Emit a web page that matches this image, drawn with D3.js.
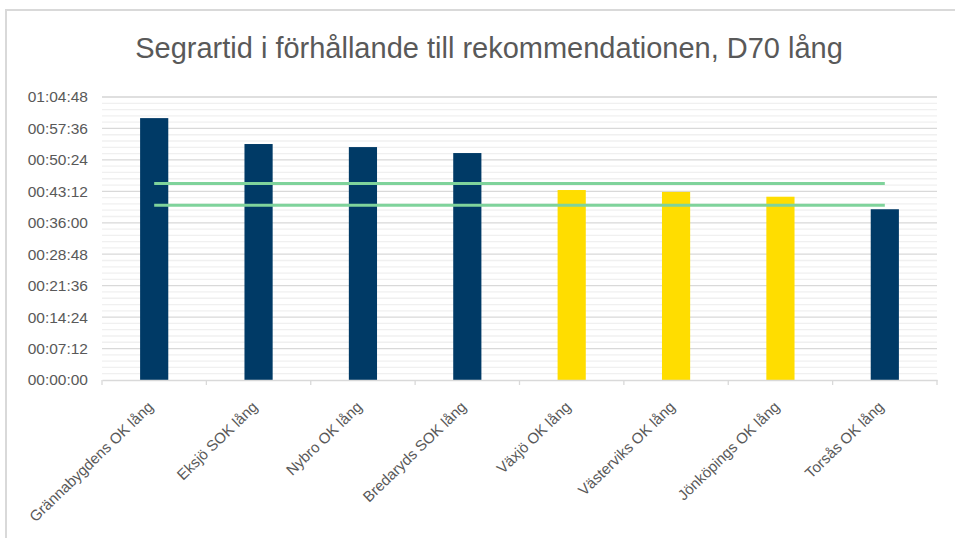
<!DOCTYPE html>
<html>
<head>
<meta charset="utf-8">
<script src="https://cdn.jsdelivr.net/npm/d3@7"></script>
<style>
  html, body { margin: 0; padding: 0; background: #fff; }
  svg { display: block; font-family: "Liberation Sans", Arial, sans-serif; }
</style>
</head>
<body>
<svg id="chart" width="955" height="538"></svg>
<script>
const clubs = [
  "Grännabygdens OK lång",
  "Eksjö SOK lång",
  "Nybro OK lång",
  "Bredaryds SOK lång",
  "Växjö OK lång",
  "Västerviks OK lång",
  "Jönköpings OK lång",
  "Torsås OK lång",
];
// winning times (h:mm:ss)
const winTimes = ["0:59:58", "0:54:02", "0:53:20", "0:51:58", "0:43:30", "0:43:04", "0:41:58", "0:39:06"];
// bars inside the recommendation window are yellow
const withinRec = [false, false, false, false, true, true, true, false];
const recUpper = "0:45:00";
const recLower = "0:40:00";
const yTickStep = 432; // 00:07:12
const yMax = 3888;     // 01:04:48

const toSec = (s) => {
  const [h, m, sec] = s.split(":").map(Number);
  return h * 3600 + m * 60 + sec;
};
const fmt = (s) => {
  const h = Math.floor(s / 3600), m = Math.floor((s % 3600) / 60), x = s % 60;
  return [h, m, x].map((v) => String(v).padStart(2, "0")).join(":");
};

const svg = d3.select("#chart");
const margin = { left: 102, right: 18, top: 97, bottom: 158 };
const width = 955, height = 538;

// outer frame
svg.append("rect")
  .attr("x", 6).attr("y", 10)
  .attr("width", 1000).attr("height", 1000)
  .attr("fill", "none")
  .attr("stroke", "#d9d9d9")
  .attr("stroke-width", 2);

svg.append("text")
  .attr("x", 489).attr("y", 58)
  .attr("text-anchor", "middle")
  .attr("font-size", 29)
  .attr("fill", "#595959")
  .text("Segrartid i förhållande till rekommendationen, D70 lång");

const x = d3.scaleBand()
  .domain(clubs)
  .range([margin.left, width - margin.right])
  .paddingInner(0.73)
  .paddingOuter(0.365);

const xOuter = d3.scaleBand().domain(clubs).range([margin.left, width - margin.right]);

const y = d3.scaleLinear().domain([0, yMax]).range([height - margin.bottom, margin.top]);

// minor gridlines
const minorTicks = d3.range(0, yMax + 1, yTickStep / 5).filter((v) => v % yTickStep !== 0);
svg.append("g")
  .selectAll("line")
  .data(minorTicks)
  .join("line")
  .attr("x1", margin.left).attr("x2", width - margin.right)
  .attr("y1", (d) => y(d)).attr("y2", (d) => y(d))
  .attr("stroke", "#f0f0f0")
  .attr("stroke-width", 1.3);

// major gridlines
const majorTicks = d3.range(yTickStep, yMax + 1, yTickStep);
svg.append("g")
  .selectAll("line")
  .data(majorTicks)
  .join("line")
  .attr("x1", margin.left).attr("x2", width - margin.right)
  .attr("y1", (d) => y(d)).attr("y2", (d) => y(d))
  .attr("stroke", "#d9d9d9")
  .attr("stroke-width", 1.3);

// y axis labels
const yAxis = d3.axisLeft(y)
  .tickValues(d3.range(0, yMax + 1, yTickStep))
  .tickFormat(fmt)
  .tickSize(0)
  .tickPadding(14);
svg.append("g")
  .attr("transform", `translate(${margin.left},0)`)
  .call(yAxis)
  .call((g) => g.select(".domain").remove())
  .call((g) => g.selectAll("text")
    .attr("font-family", "Liberation Sans, Arial, sans-serif")
    .attr("font-size", 15.5)
    .attr("fill", "#595959"));

// bars
svg.append("g")
  .selectAll("rect")
  .data(clubs)
  .join("rect")
  .attr("x", (d) => x(d))
  .attr("width", x.bandwidth())
  .attr("y", (d, i) => y(toSec(winTimes[i])))
  .attr("height", (d, i) => y(0) - y(toSec(winTimes[i])))
  .attr("fill", (d, i) => withinRec[i] ? "#ffdd00" : "#003a66");

// recommendation lines
[recUpper, recLower].forEach((r) => {
  const yy = y(toSec(r));
  svg.append("path")
    .attr("d", d3.line()
      .x((d) => xOuter(d) + xOuter.bandwidth() / 2)
      .y(() => yy)(clubs))
    .attr("fill", "none")
    .attr("stroke", "#7fd39b")
    .attr("stroke-width", 3);
});

// x axis
const xAxis = d3.axisBottom(xOuter).tickSize(0).tickFormat("");
svg.append("g")
  .attr("transform", `translate(0,${y(0)})`)
  .call(xAxis)
  .call((g) => g.select(".domain").attr("stroke", "#d9d9d9").attr("stroke-width", 1.3));

svg.append("g")
  .selectAll("line")
  .data(d3.range(clubs.length + 1))
  .join("line")
  .attr("x1", (i) => margin.left + i * xOuter.step())
  .attr("x2", (i) => margin.left + i * xOuter.step())
  .attr("y1", y(0)).attr("y2", y(0) + 5)
  .attr("stroke", "#d9d9d9")
  .attr("stroke-width", 1.3);

svg.append("g")
  .selectAll("text")
  .data(clubs)
  .join("text")
  .attr("transform", (d) => `translate(${xOuter(d) + xOuter.bandwidth() / 2},${y(0) + 28}) rotate(-44)`)
  .attr("text-anchor", "end")
  .attr("font-size", 15)
  .attr("fill", "#595959")
  .text((d) => d);
</script>
</body>
</html>
